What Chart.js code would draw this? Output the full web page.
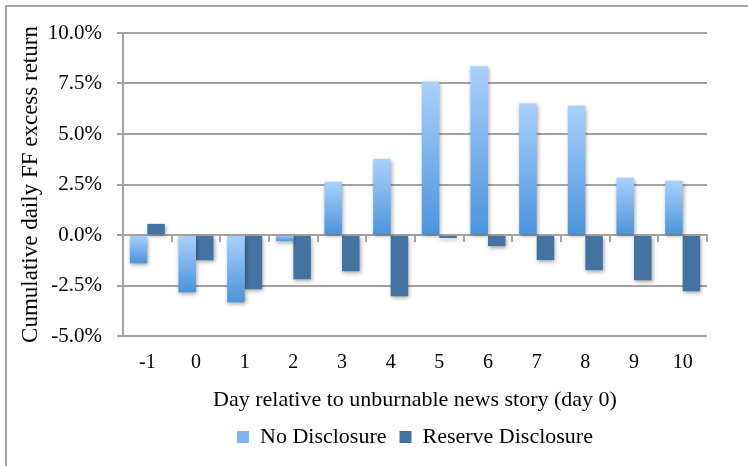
<!DOCTYPE html>
<html>
<head>
<meta charset="utf-8">
<script src="https://cdn.jsdelivr.net/npm/chart.js@4.4.1/dist/chart.umd.min.js"></script>
<style>
  html, body { margin: 0; padding: 0; background: #fff; }
  #wrap { position: relative; width: 748px; height: 466px; overflow: hidden; }
  #frame { position: absolute; left: 5px; top: 5px; width: 760px; height: 480px;
           border-top: 2px solid #a6a6a6; border-left: 2px solid #a6a6a6; }
  canvas { position: absolute; left: 0; top: 0; }
</style>
</head>
<body>
<div id="wrap">
  <div id="frame"></div>
  <canvas id="chart" width="748" height="466"></canvas>
</div>
<script>
// valores (en %)
const days = ['-1', '0', '1', '2', '3', '4', '5', '6', '7', '8', '9', '10'];
const noDisclosure = [-1.40, -2.83, -3.33, -0.30, 2.63, 3.78, 7.60, 8.35, 6.51, 6.41, 2.83, 2.68];
const reserveDisclosure = [0.55, -1.25, -2.68, -2.19, -1.79, -3.03, -0.15, -0.55, -1.24, -1.74, -2.24, -2.78];
const yTicks = [-5, -2.5, 0, 2.5, 5, 7.5, 10];

const gridGrey = '#a4a4a4';
const serifFamily = '"Liberation Serif", "Times New Roman", serif';
const tickFont = { family: serifFamily, size: 20 };
const textFont = { family: serifFamily, size: 22 };

// degradado por barra, claro arriba y oscuro abajo
function noDiscFill(ctx) {
    const chart = ctx.chart;
    const y = chart.scales.y;
    if (ctx.type !== 'data' || !y || !chart.chartArea) return '#7fb3ee';
    const v = ctx.raw;
    const top = y.getPixelForValue(Math.max(v, 0));
    const bot = y.getPixelForValue(Math.min(v, 0));
    const g = chart.ctx.createLinearGradient(0, top, 0, bot + 0.01);
    g.addColorStop(0, '#abd0fd');
    g.addColorStop(1, '#4a94db');
    return g;
}

// sombrita de las barras
const barShadow = {
    id: 'barShadow',
    beforeDatasetsDraw(chart) {
        const c = chart.ctx;
        c.save();
        c.shadowColor = 'rgba(0,0,0,0.35)';
        c.shadowBlur = 4;
        c.shadowOffsetX = 1;
        c.shadowOffsetY = 2;
    },
    afterDatasetsDraw(chart) {
        chart.ctx.restore();
    }
};

new Chart(document.getElementById('chart').getContext('2d'), {
    type: 'bar',
    data: {
        labels: days,
        datasets: [{
            label: 'No Disclosure',
            data: noDisclosure,
            backgroundColor: noDiscFill,
            xAxisID: 'x',
            yAxisID: 'y'
        }, {
            label: 'Reserve Disclosure',
            data: reserveDisclosure,
            backgroundColor: '#4573a1',
            xAxisID: 'x',
            yAxisID: 'y'
        }]
    },
    options: {
        responsive: false,
        animation: false,
        devicePixelRatio: 1,
        categoryPercentage: 0.72,
        barPercentage: 1.0,
        layout: { padding: { left: 0, top: 33, right: 41, bottom: 8 } },
        scales: {
            y: {
                min: -5,
                max: 10,
                afterBuildTicks: (s) => { s.ticks = yTicks.map(v => ({ value: v })); },
                afterFit: (s) => { s.width = 123; },
                grid: { color: gridGrey, lineWidth: 2, tickLength: 6 },
                border: { color: gridGrey, width: 2 },
                ticks: {
                    padding: 15,
                    color: '#000',
                    font: { family: serifFamily, size: 21 },
                    callback: (v) => v.toFixed(1) + '%'
                },
                title: {
                    display: true,
                    text: 'Cumulative daily FF excess return',
                    color: '#000',
                    font: { family: serifFamily, size: 23 },
                    padding: { top: 17, bottom: 0 }
                }
            },
            x: {
                afterFit: (s) => { s.height = 77; },
                grid: { display: false, drawTicks: false },
                border: { display: false },
                ticks: { padding: 15, color: '#000', font: tickFont, maxRotation: 0 },
                title: {
                    display: true,
                    text: 'Day relative to unburnable news story (day 0)',
                    color: '#000',
                    font: textFont,
                    padding: { top: 0, bottom: 0 }
                }
            },
            // eje en el cero con las marquitas
            x2: {
                type: 'category',
                axis: 'x',
                position: { y: 0 },
                offset: true,
                grid: { offset: true, drawOnChartArea: false, tickLength: 6, color: gridGrey, lineWidth: 2 },
                border: { color: gridGrey, width: 2 },
                ticks: { display: false }
            }
        },
        plugins: {
            legend: {
                position: 'bottom',
                fullSize: false,
                labels: {
                    boxWidth: 12,
                    boxHeight: 12,
                    padding: 13,
                    color: '#000',
                    font: textFont,
                    // el cuadrito de la leyenda con un azul intermedio
                    generateLabels: (chart) => {
                        const items = Chart.defaults.plugins.legend.labels.generateLabels(chart);
                        items[0].fillStyle = '#80b4ef';
                        items[0].strokeStyle = '#80b4ef';
                        return items;
                    }
                }
            },
            tooltip: { enabled: false }
        }
    },
    plugins: [barShadow]
});
</script>
</body>
</html>
